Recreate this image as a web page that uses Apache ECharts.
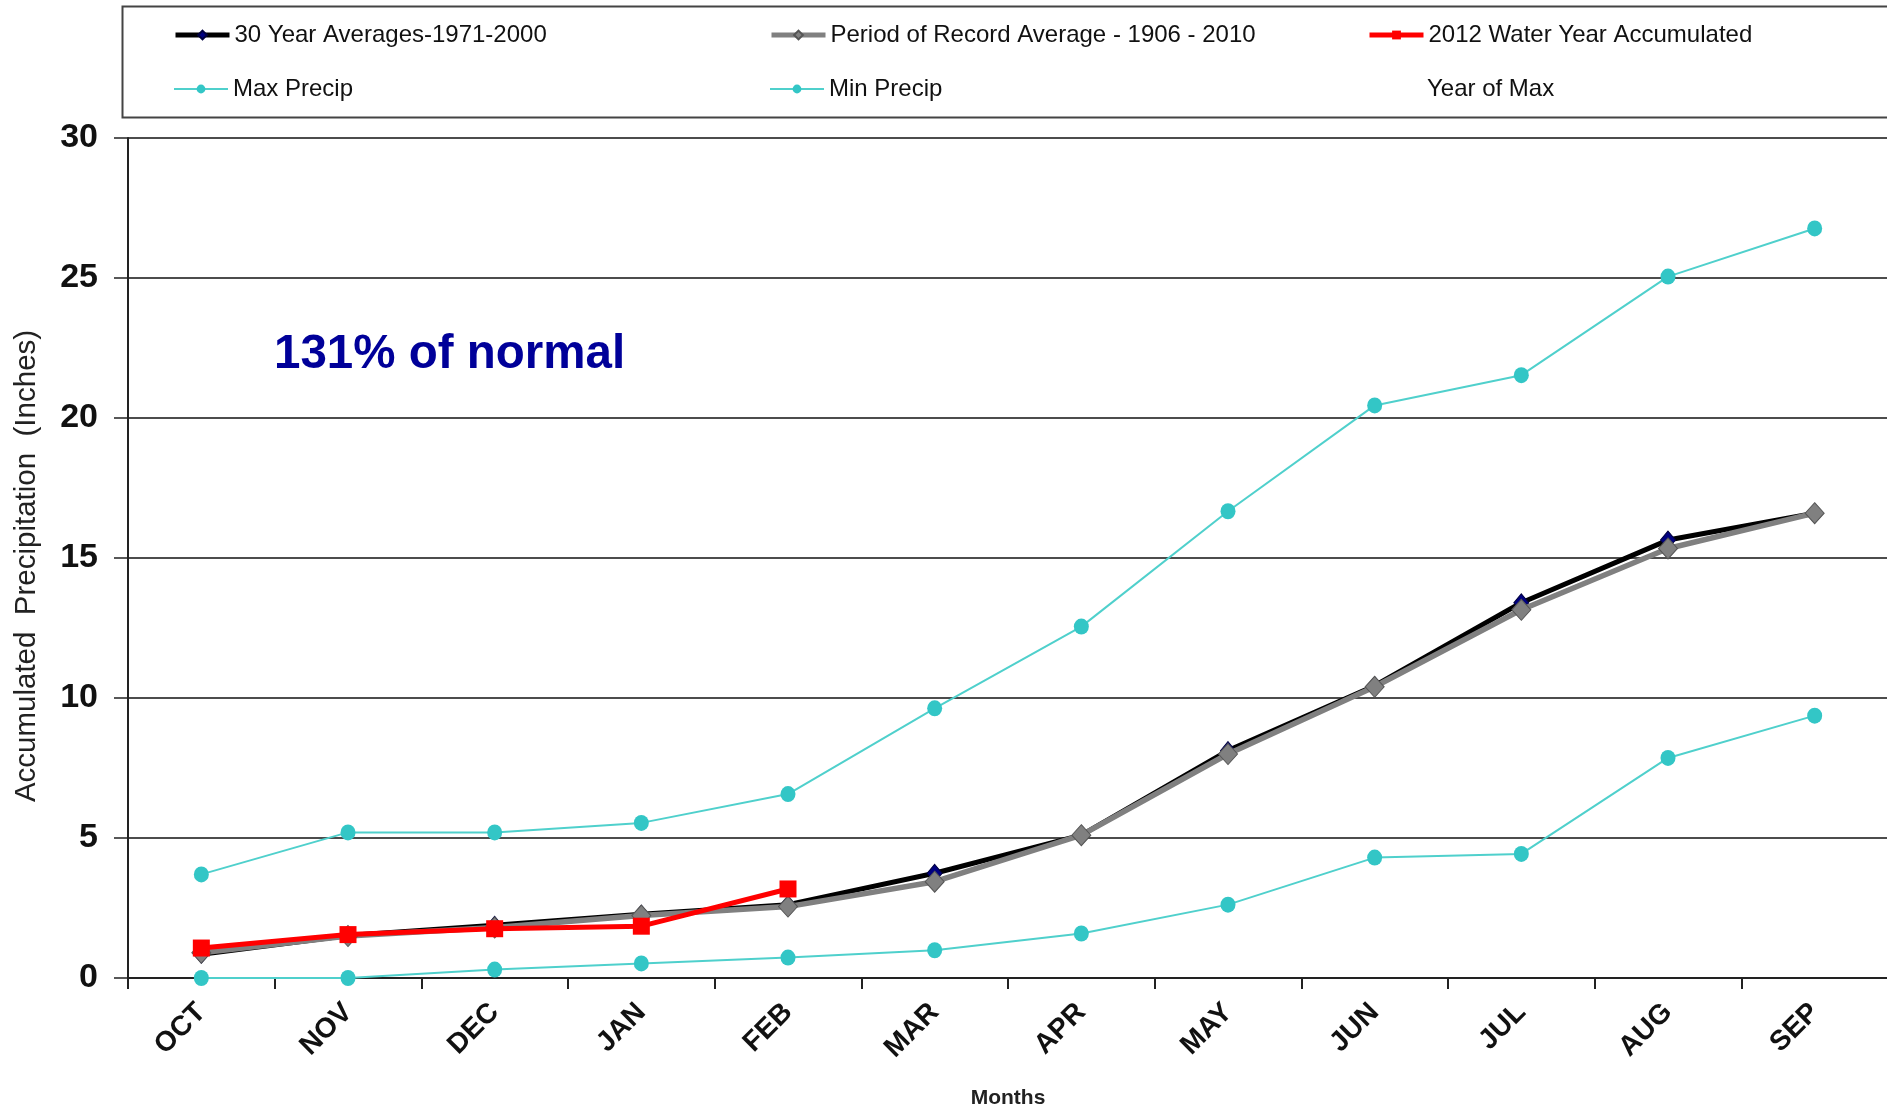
<!DOCTYPE html>
<html>
<head>
<meta charset="utf-8">
<script src="https://cdn.jsdelivr.net/npm/echarts@6/dist/echarts.min.js"></script>
<style>
html,body{margin:0;padding:0;background:#fff;}
#chart{width:1887px;height:1107px;}
</style>
</head>
<body>
<div id="chart"></div>
<script>
const months = ['OCT','NOV','DEC','JAN','FEB','MAR','APR','MAY','JUN','JUL','AUG','SEP'];
const avg30 = [0.85, 1.52, 1.88, 2.28, 2.62, 3.74, 5.10, 8.12, 10.44, 13.40, 15.64, 16.60];
const porAvg = [0.90, 1.50, 1.80, 2.23, 2.55, 3.44, 5.10, 8.00, 10.40, 13.15, 15.34, 16.60];
const wy2012 = [1.07, 1.55, 1.76, 1.85, 3.18];
const maxPrecip = [3.70, 5.20, 5.20, 5.54, 6.57, 9.63, 12.55, 16.67, 20.45, 21.53, 25.05, 26.77];
const minPrecip = [0.00, 0.00, 0.30, 0.52, 0.73, 0.99, 1.59, 2.62, 4.30, 4.43, 7.86, 9.37];
const yTicks = [0, 5, 10, 15, 20, 25, 30];

const FONT = '"Liberation Sans", Arial, sans-serif';
const chart = echarts.init(document.getElementById('chart'));

function legendAt(item, left, top) {
  return {
    data: [item], left: left, top: top, orient: 'horizontal',
    itemWidth: 54, itemHeight: 11, itemGap: 0,
    textStyle: {fontFamily: FONT, fontSize: 24, color: '#111'},
    selectedMode: false
  };
}

const option = {
  backgroundColor: '#fff',
  animation: false,
  grid: {left: 128, right: -1, top: 138, bottom: 129, containLabel: false, outerBoundsMode: 'none'},
  legend: [
    legendAt({name: '30 Year Averages-1971-2000', lineStyle: {width: 5}}, 168, 18),
    legendAt({name: 'Period of Record Average - 1906 - 2010', lineStyle: {width: 5}}, 764, 18),
    legendAt({name: '2012 Water Year Accumulated', lineStyle: {width: 5}}, 1362, 18),
    legendAt({name: 'Max Precip', lineStyle: {width: 2}}, 168, 72),
    legendAt({name: 'Min Precip', lineStyle: {width: 2}}, 764, 72),
    legendAt({name: 'Year of Max', itemStyle: {opacity: 0}, lineStyle: {opacity: 0}}, 1362, 72)
  ],
  graphic: [
    {type: 'rect', left: 120, top: 4, shape: {x: 0, y: 0, width: 1790, height: 111},
     style: {fill: 'none', stroke: '#444', lineWidth: 2}, z: 0},
    {type: 'text', left: 274, top: 331,
     style: {text: '131% of normal', fill: '#000099', font: 'bold 47.5px "Liberation Sans", Arial, sans-serif'}},
    {type: 'text', x: 27, y: 566, rotation: Math.PI / 2,
     style: {text: 'Accumulated  Precipitation  (Inches)', fill: '#222', textAlign: 'center', textVerticalAlign: 'middle',
       font: '29.5px "Liberation Sans", Arial, sans-serif'}}
  ],
  xAxis: {
    type: 'category', data: months, boundaryGap: true,
    name: 'Months', nameLocation: 'middle', nameGap: 110,
    nameTextStyle: {fontFamily: FONT, fontWeight: 'bold', fontSize: 21, color: '#222'},
    axisLine: {lineStyle: {color: '#222', width: 2}},
    axisTick: {show: true, length: 11, lineStyle: {color: '#222', width: 2}},
    axisLabel: {rotate: 45, margin: 30, fontFamily: FONT, fontWeight: 'bold', fontSize: 28, color: '#111'},
    splitLine: {show: false}
  },
  yAxis: {
    type: 'value', min: 0, max: 30, interval: 5,
    axisLine: {show: true, lineStyle: {color: '#222', width: 2}},
    axisTick: {show: true, length: 14, lineStyle: {color: '#222', width: 1.5}},
    axisLabel: {margin: 30, fontFamily: FONT, fontWeight: 'bold', fontSize: 34, color: '#111',
      formatter: v => yTicks.indexOf(v) >= 0 ? String(v) : ''},
    splitLine: {show: true, lineStyle: {color: '#111', width: 1.5}}
  },
  series: [
    {name: '30 Year Averages-1971-2000', type: 'line', data: avg30, z: 3,
     symbol: 'diamond', symbolSize: [15, 18],
     lineStyle: {color: '#000', width: 5}, itemStyle: {color: '#000080', borderColor: '#000040', borderWidth: 1}},
    {name: 'Period of Record Average - 1906 - 2010', type: 'line', data: porAvg, z: 4,
     symbol: 'diamond', symbolSize: [19, 21],
     lineStyle: {color: '#808080', width: 5.5}, itemStyle: {color: '#808080', borderColor: '#555', borderWidth: 1}},
    {name: '2012 Water Year Accumulated', type: 'line', data: wy2012, z: 6,
     symbol: 'rect', symbolSize: 17,
     lineStyle: {color: '#ff0000', width: 5}, itemStyle: {color: '#ff0000'}},
    {name: 'Max Precip', type: 'line', data: maxPrecip, z: 2,
     symbol: 'circle', symbolSize: [15, 16],
     lineStyle: {color: '#4fd0cc', width: 2}, itemStyle: {color: '#33c6c6'}},
    {name: 'Min Precip', type: 'line', data: minPrecip, z: 2,
     symbol: 'circle', symbolSize: [15, 16],
     lineStyle: {color: '#4fd0cc', width: 2}, itemStyle: {color: '#33c6c6'}},
    {name: 'Year of Max', type: 'line', data: [], showSymbol: false,
     lineStyle: {opacity: 0}, itemStyle: {opacity: 0}}
  ]
};
chart.setOption(option);
</script>
</body>
</html>
